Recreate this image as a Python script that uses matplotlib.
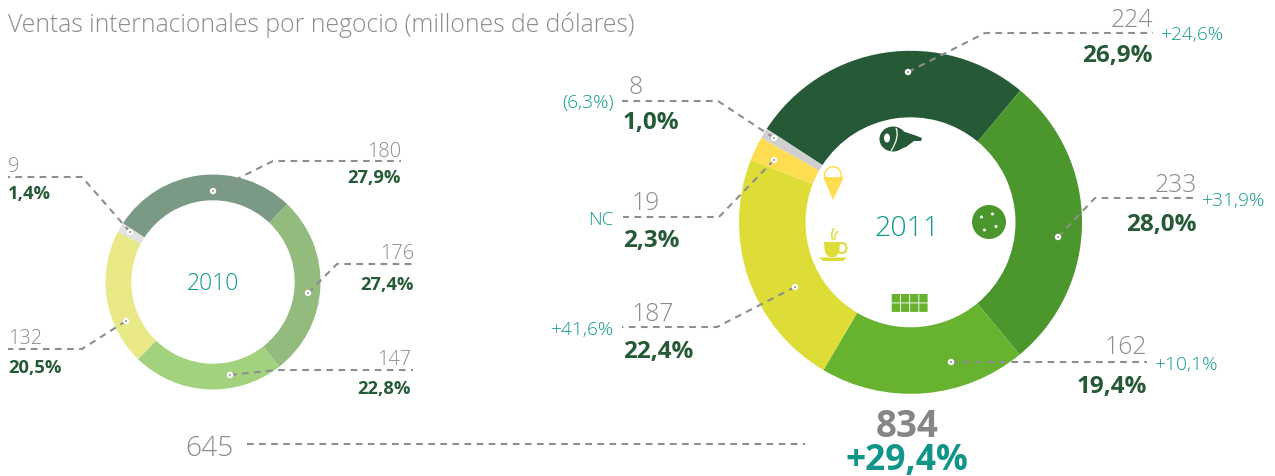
import matplotlib
matplotlib.use('Agg')
import matplotlib.pyplot as plt
from matplotlib.patches import Circle, Ellipse, Polygon, Rectangle, Wedge, PathPatch
from matplotlib.path import Path

plt.rcParams['font.family'] = ['Open Sans', 'DejaVu Sans']

# data
negocios = ['Carnes', 'Galletas', 'Chocolates', 'Cafe', 'Helados', 'Otros']
ventas_2011 = [224, 233, 162, 187, 19, 8]
part_2011 = ['26,9%', '28,0%', '19,4%', '22,4%', '2,3%', '1,0%']
var_2011 = ['+24,6%', '+31,9%', '+10,1%', '+41,6%', 'NC', '(6,3%)']
ventas_2010 = [180, 176, 147, 132, 9]
part_2010 = ['27,9%', '27,4%', '22,8%', '20,5%', '1,4%']
total_2010 = '645'
total_2011 = '834'
var_total = '+29,4%'

colores_2011 = ['#265A37', '#4C962E', '#67B22F', '#DEDD38', '#FFDD50', '#CFCFCF']
colores_2010 = ['#7B9A85', '#93BB7D', '#A3D27F', '#EAE988', '#E2E2E2']

W, H = 1275, 477
GRIS = '#8c8c8c'
LINEA = '#8e8e8e'
VERDE = '#265A37'
TEAL = '#0F9A8A'

fig = plt.figure(figsize=(W / 100, H / 100), dpi=100)


def donut(cx, cy, r, r_in, valores, colores):
    ax = fig.add_axes([(cx - r) / W, 1 - (cy + r) / H, 2 * r / W, 2 * r / H])
    ax.pie(valores, colors=colores, startangle=147, counterclock=False, radius=1,
           wedgeprops=dict(width=1 - r_in / r, edgecolor='none', linewidth=0))
    ax.set_xlim(-1, 1)
    ax.set_ylim(-1, 1)
    return ax


donut(213, 283, 107.5, 81.7, ventas_2010, colores_2010)
donut(910.5, 223.3, 171.5, 105, ventas_2011, colores_2011)

# overlay in pixel coordinates
ov = fig.add_axes([0, 0, 1, 1], facecolor='none')
ov.set_xlim(0, W)
ov.set_ylim(H, 0)
ov.axis('off')


def guia(puntos):
    xs, ys = zip(*puntos)
    ov.plot(xs, ys, color=LINEA, lw=1.5, ls=(0, (3.2, 2.6)), zorder=3)
    ov.add_patch(Circle(puntos[0], 3.2, fc='white', ec='none', zorder=4))
    ov.add_patch(Circle(puntos[0], 0.9, fc='#777777', ec='none', zorder=5))


def txt(x, y, s, color, size, ha='left', weight='normal'):
    # y is the middle of the digits, so go down to the baseline
    ov.text(x, y + 0.496 * size, s, color=color, fontsize=size, ha=ha, va='baseline',
            weight=weight, zorder=6)


txt(8, 23, 'Ventas internacionales por negocio (millones de dólares)', GRIS, 17.8, weight='light')

# 2010
guias_2010 = [[(213, 192), (273, 162), (401, 162)],
              [(308, 294), (337, 265), (415, 265)],
              [(230, 376), (277, 371), (413, 371)],
              [(126, 322), (82, 350), (8, 350)],
              [(130, 233), (82, 178), (8, 178)]]
pos_2010 = [(401, 150, 176, 'right'), (414, 252, 283, 'right'), (411, 358, 387, 'right'),
            (8, 337, 366, 'left'), (8, 165, 192, 'left')]
for g, p, v, pc in zip(guias_2010, pos_2010, ventas_2010, part_2010):
    guia(g)
    txt(p[0], p[1], str(v), GRIS, 14.3, ha=p[3], weight='light')
    txt(p[0], p[2], pc, VERDE, 13.2, ha=p[3], weight='bold')
txt(213, 282, '2010', TEAL, 16.5, ha='center', weight='light')

# 2011
guias_2011 = [[(908, 73), (985, 34), (1153, 34)],
              [(1058, 238), (1095, 199), (1197, 199)],
              [(951, 363), (1147, 363)],
              [(795, 288), (717, 328), (622, 328)],
              [(774, 161), (719, 218), (623, 218)],
              [(774, 139), (718, 102), (622, 102)]]
pos_2011 = [(1153, 18, 53, 'right', 1161, 33, 'left'),
            (1197, 183, 222, 'right', 1202, 199, 'left'),
            (1147, 345, 384, 'right', 1155, 363, 'left'),
            (632, 312, 349, 'left', 614, 328, 'right'),
            (632, 201, 238, 'left', 614, 218, 'right'),
            (628, 85, 120, 'left', 614, 101, 'right')]
for i, (g, p) in enumerate(zip(guias_2011, pos_2011)):
    guia(g)
    txt(p[0], p[1], str(ventas_2011[i]), GRIS, 17.8, ha=p[3], weight='light')
    x_pc = p[0] if p[3] == 'right' else 623
    txt(x_pc, p[2], part_2011[i], VERDE, 17.5, ha=p[3], weight='bold')
    txt(p[4], p[5], var_2011[i], TEAL, 13.8, ha=p[6], weight='light')
txt(907, 226, '2011', TEAL, 20.5, ha='center', weight='light')

# totales
ov.plot([247, 805], [445, 445], color=LINEA, lw=1.5, ls=(0, (3.2, 2.6)))
txt(185, 446.3, total_2010, GRIS, 20.3, weight='light')
txt(907, 423.7, total_2011, '#868686', 26.5, ha='center', weight='bold')
txt(907, 457.5, var_total, '#0F9688', 25.5, ha='center', weight='bold')

# icons: ham
ov.add_patch(Ellipse((893, 140), 27, 25, fc=VERDE, ec='none'))
ov.add_patch(Polygon([(895, 129), (905, 133), (917, 137), (922, 139), (921, 142),
                      (914, 142), (906, 148), (897, 151)], fc=VERDE, ec='none'))
ov.add_patch(Ellipse((887, 139), 6, 9, fc='white', ec='none'))
ov.add_patch(PathPatch(Path([(896, 129), (900, 138), (891, 152)],
                            [Path.MOVETO, Path.CURVE3, Path.CURVE3]),
                       fc='none', ec='white', lw=0.9))
# ice cream
ov.add_patch(Polygon([(824, 180), (843, 180), (833, 201)], fc='#FFDD50', ec='none'))
ov.add_patch(Wedge((833, 176), 9, 0, 360, width=1.5, fc='#FFDD50', ec='none'))
ov.add_patch(Rectangle((824, 178), 19, 2.5, fc='#FFDD50', ec='none'))
# cup
cup = '#DEDD38'
ov.add_patch(Polygon([(824, 243), (840, 243), (839, 254), (835, 258), (829, 258), (825, 254)],
                     fc=cup, ec='none'))
ov.add_patch(Ellipse((842, 249), 9, 10, fc='none', ec=cup, lw=1.5))
ov.add_patch(Polygon([(819, 258.5), (847, 258.5), (843, 262), (823, 262)], fc=cup, ec='none'))
ov.add_patch(PathPatch(Path([(833, 241), (830, 235), (834, 229)],
                            [Path.MOVETO, Path.CURVE3, Path.CURVE3]), fc='none', ec=cup, lw=1.1))
ov.add_patch(PathPatch(Path([(835, 241), (834, 236), (838, 232)],
                            [Path.MOVETO, Path.CURVE3, Path.CURVE3]), fc='none', ec=cup, lw=1.1))
# cookie
ov.add_patch(Circle((989, 223), 17, fc='#4C962E', ec='none'))
for c in [(981.5, 218), (992.5, 215), (996, 227.5), (984.5, 231)]:
    ov.add_patch(Circle(c, 1.5, fc='white', ec='none'))
# chocolate
for fila in range(2):
    for col in range(4):
        ov.add_patch(Rectangle((891.7 + col * 9.2, 295 + fila * 9.4), 8.3, 8.5, fc='#67B22F', ec='none',
                               snap=False))

fig.savefig('out.png', dpi=100)
